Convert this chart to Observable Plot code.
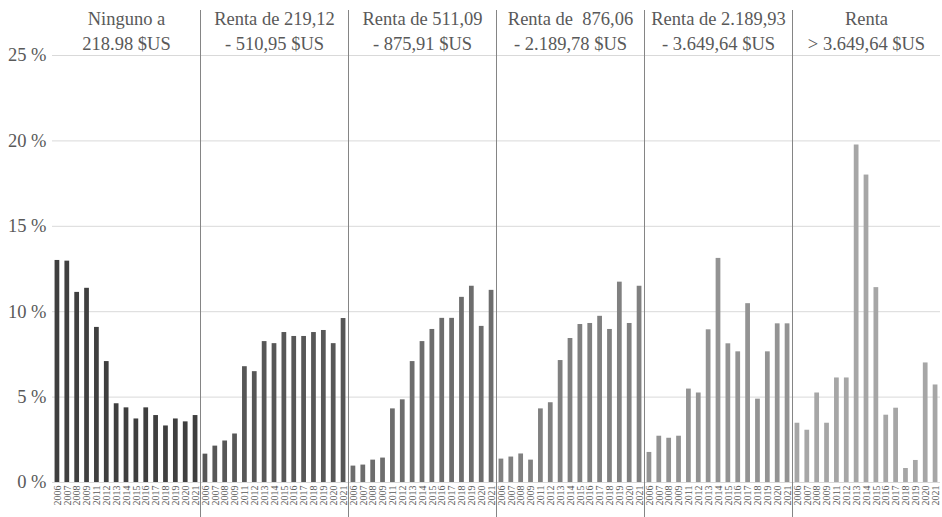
<!DOCTYPE html>
<html>
<head>
<meta charset="utf-8">
<script src="https://cdn.jsdelivr.net/npm/d3@7"></script>
<script src="https://cdn.jsdelivr.net/npm/@observablehq/plot@0.6"></script>
<style>
  html, body { margin: 0; padding: 0; background: #fff; }
  svg text { white-space: pre; }
</style>
</head>
<body>
<div id="chart"></div>
<script>
const panels = [
  "Ninguno a\n218.98 $US",
  "Renta de 219,12\n- 510,95 $US",
  "Renta de 511,09\n- 875,91 $US",
  "Renta de  876,06\n- 2.189,78 $US",
  "Renta de 2.189,93\n- 3.649,64 $US",
  "Renta\n> 3.649,64 $US"
];
const years = ["2006","2007","2008","2009","2011","2012","2013","2014","2015","2016","2017","2018","2019","2020","2021"];
const yTicks = [0, 5, 10, 15, 20, 25];
const panelColors = ["#3f3f3f", "#575757", "#6d6d6d", "#808080", "#939393", "#a6a6a6"];

const ningunoA218 = [13.0, 12.96, 11.13, 11.37, 9.08, 7.08, 4.61, 4.37, 3.72, 4.37, 3.92, 3.31, 3.72, 3.55, 3.92];
const renta219a510 = [1.66, 2.13, 2.43, 2.84, 6.78, 6.49, 8.25, 8.13, 8.78, 8.55, 8.55, 8.78, 8.9, 8.13, 9.6];
const renta511a875 = [0.96, 1.02, 1.31, 1.43, 4.31, 4.84, 7.08, 8.25, 8.96, 9.61, 9.61, 10.84, 11.49, 9.14, 11.25];
const renta876a2189 = [1.37, 1.49, 1.67, 1.31, 4.31, 4.67, 7.14, 8.43, 9.25, 9.31, 9.73, 8.96, 11.73, 9.31, 11.49];
const renta2189a3649 = [1.76, 2.71, 2.59, 2.71, 5.47, 5.24, 8.94, 13.12, 8.12, 7.65, 10.47, 4.88, 7.65, 9.29, 9.29];
const rentaMas3649 = [3.47, 3.06, 5.24, 3.47, 6.12, 6.12, 19.76, 18.0, 11.41, 3.94, 4.35, 0.82, 1.29, 7.0, 5.71];

const series = [ningunoA218, renta219a510, renta511a875, renta876a2189, renta2189a3649, rentaMas3649];
const rows = [];
series.forEach((vals, p) => vals.forEach((v, i) => rows.push({panel: panels[p], year: years[i], value: v})));

const font = '"Liberation Serif", "Times New Roman", serif';
const textColor = "#595959";

const chart = Plot.plot({
  width: 942,
  height: 517,
  marginLeft: 52,
  marginRight: 2,
  marginTop: 55,
  marginBottom: 35,
  style: {fontFamily: font, background: "#fff", overflow: "visible"},
  fx: {domain: panels, padding: 0, round: false, axis: null},
  x: {domain: years, paddingInner: 0.52, paddingOuter: 0.26, round: false},
  y: {domain: [0, 25]},
  color: {domain: panels, range: panelColors},
  marks: [
    Plot.ruleY(yTicks, {stroke: "#d9d9d9", strokeWidth: 1}),
    Plot.barY(rows, {fx: "panel", x: "year", y: "value", fill: "panel"}),
    ...panels.slice(1).map(p => Plot.frame({
      fx: () => p, anchor: "left", stroke: "#858585", strokeWidth: 1,
      insetTop: -45, insetBottom: -36
    })),
    Plot.axisY({
      ticks: yTicks, tickFormat: d => d + " %", tickSize: 0, tickPadding: 6,
      fontSize: 18.5, fill: textColor, label: null
    }),
    Plot.axisX({
      tickSize: 0, tickPadding: 3, tickRotate: -90, fontSize: 10,
      fill: textColor, label: null
    }),
    Plot.text(panels, {
      fx: d => d, text: d => d, frameAnchor: "top", lineAnchor: "bottom",
      dy: -6, lineHeight: 1.3, fontSize: 18.5, fill: textColor
    })
  ]
});
document.getElementById("chart").appendChild(chart);
</script>
</body>
</html>
